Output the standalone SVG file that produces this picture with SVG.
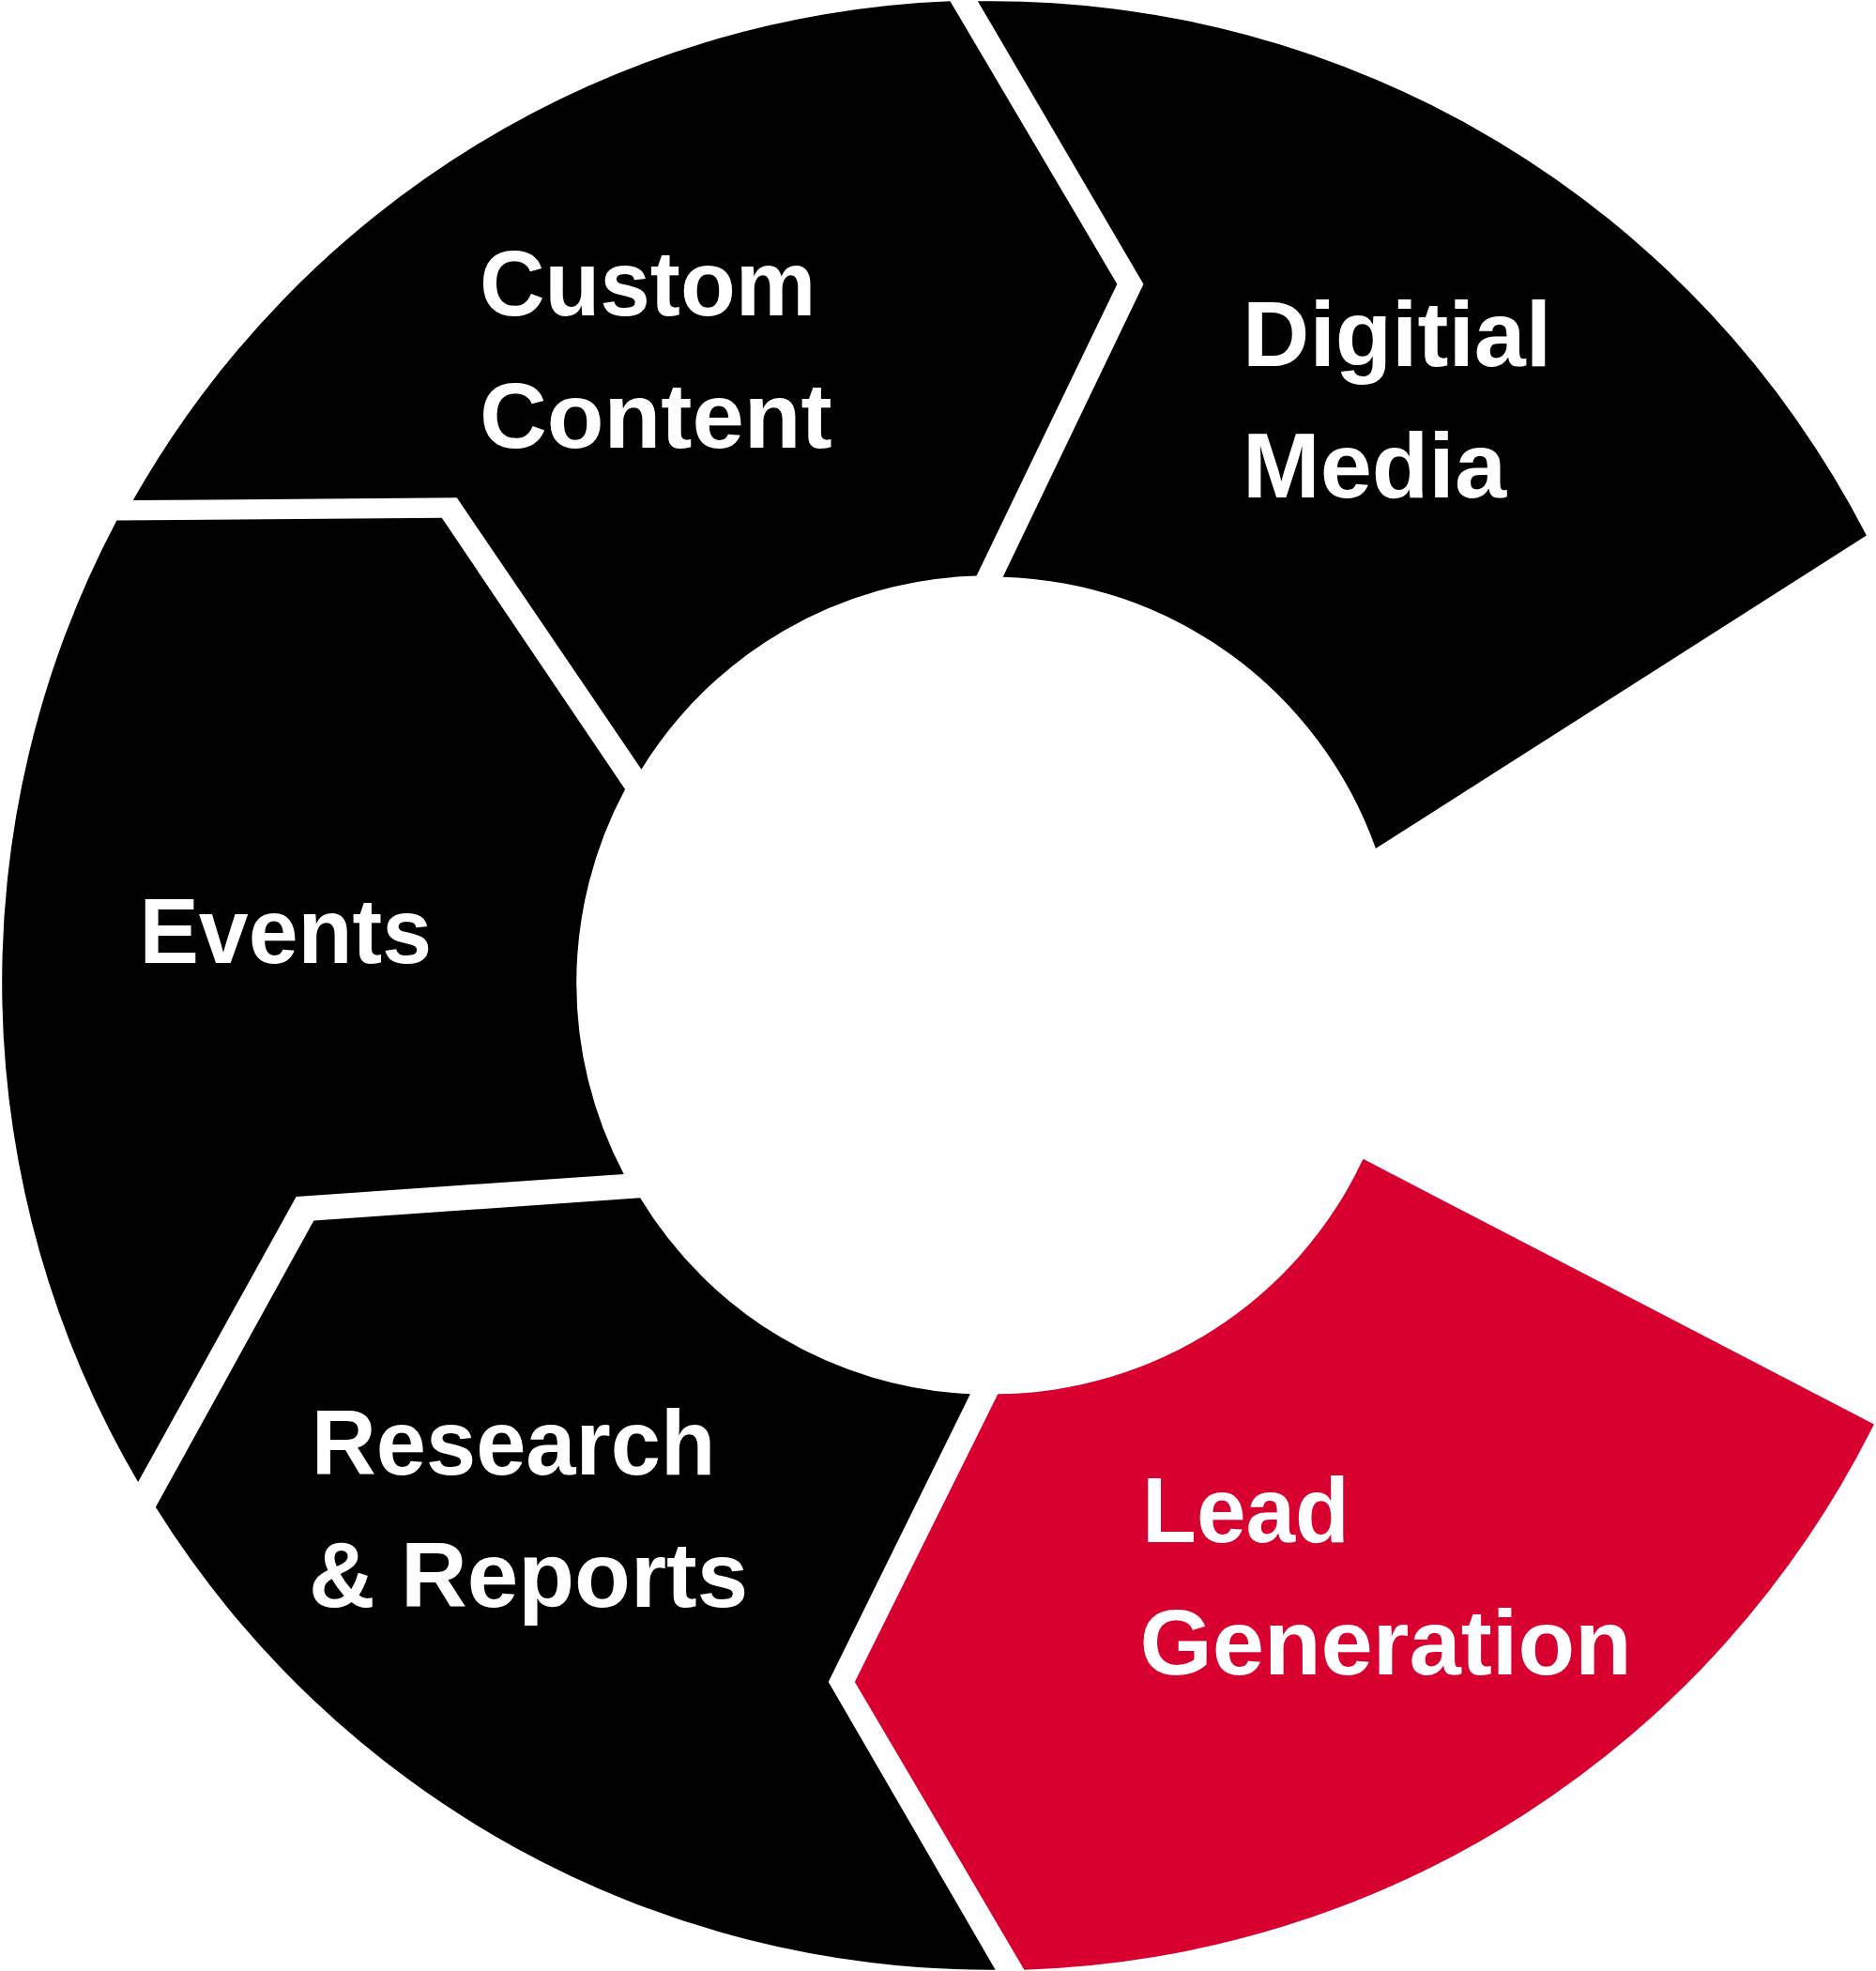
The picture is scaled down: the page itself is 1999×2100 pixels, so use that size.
<svg xmlns="http://www.w3.org/2000/svg" width="1999" height="2100" viewBox="0 0 1999 2100">
<style>
.seg{fill:#000}
.red{fill:#d8002e}
text{font-family:"Liberation Sans","DejaVu Sans",sans-serif;font-weight:bold;font-size:74px;fill:#fff;lengthAdjust:spacingAndGlyphs}
</style>
<rect width="1999" height="2100" fill="#fff"/>
<g transform="scale(1.3375,1.3393)">
<g id="digital-media"><path class="seg" d="M779,1 A784,784 0 0 1 1487,426 L1096,675 A325,325 0 0 0 799,459 L911,226 Z"/>
<text x="990" y="291" textLength="246" lengthAdjust="spacingAndGlyphs">Digitial</text><text x="990" y="396" textLength="210" lengthAdjust="spacingAndGlyphs">Media</text></g>
<g id="custom-content"><path class="seg" d="M106,398 A784,784 0 0 1 757,1 L890,226 L778,458 A325,325 0 0 0 511,612 L364,396 Z"/>
<text x="382" y="251" textLength="268" lengthAdjust="spacingAndGlyphs">Custom</text><text x="382" y="356" textLength="281" lengthAdjust="spacingAndGlyphs">Content</text></g>
<g id="events"><path class="seg" d="M110,1179 A784,784 0 0 1 93,414 L352,412 L498,628 A325,325 0 0 0 497,934 L236,952 Z"/>
<text x="111" y="766" textLength="233" lengthAdjust="spacingAndGlyphs">Events</text></g>
<g id="research-reports"><path class="seg" d="M793,1567 A784,784 0 0 1 124,1199 L250,971 L510,953 A325,325 0 0 0 773,1109 L660,1338 Z"/>
<text x="248" y="1173" textLength="322" lengthAdjust="spacingAndGlyphs">Research</text><text x="246" y="1278" textLength="350" lengthAdjust="spacingAndGlyphs">&amp; Reports</text></g>
<g id="lead-generation"><path class="red" d="M1493,1133 A784,784 0 0 1 816,1567 L681,1338 L795,1109 A325,325 0 0 0 1086,922 Z"/>
<text x="910" y="1227" textLength="165" lengthAdjust="spacingAndGlyphs">Lead</text><text x="908" y="1332" textLength="392" lengthAdjust="spacingAndGlyphs">Generation</text></g>
</g>
<g id="connectors"/>
</svg>
